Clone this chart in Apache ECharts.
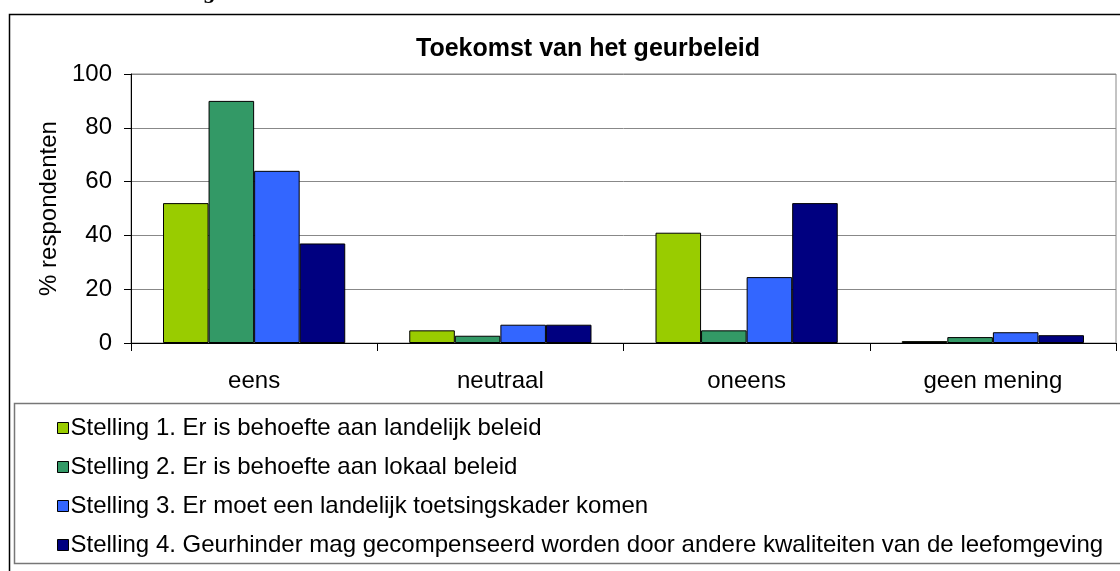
<!DOCTYPE html>
<html>
<head>
<meta charset="UTF-8"/>
<title>Toekomst van het geurbeleid</title>
<script src="https://cdn.jsdelivr.net/npm/echarts@6/dist/echarts.min.js"></script>
<style>
html, body { margin:0; padding:0; background:#fff; }
#chart { width:1120px; height:571px; }
</style>
</head>
<body>
<div id="chart"></div>
<script>
var categories = ['eens', 'neutraal', 'oneens', 'geen mening'];
var seriesNames = [
  'Stelling 1. Er is behoefte aan landelijk beleid',
  'Stelling 2. Er is behoefte aan lokaal beleid',
  'Stelling 3. Er moet een landelijk toetsingskader komen',
  'Stelling 4. Geurhinder mag gecompenseerd worden door andere kwaliteiten van de leefomgeving'
];
var stelling1 = [52, 4.7, 41, 0.7];
var stelling2 = [90, 2.7, 4.7, 2.2];
var stelling3 = [64, 6.8, 24.5, 4];
var stelling4 = [37, 6.8, 52, 2.9];
var colors = ['#99CC00', '#339966', '#3366FF', '#000080'];

var font = 'Liberation Sans, Arial, sans-serif';
var chart = echarts.init(document.getElementById('chart'));

var seriesData = [stelling1, stelling2, stelling3, stelling4];
var series = seriesData.map(function (d, i) {
  return {
    name: seriesNames[i],
    type: 'bar',
    data: d,
    barGap: '0%',
    barCategoryGap: '26%',
    itemStyle: { color: colors[i], borderColor: '#000', borderWidth: 1 },
    emphasis: { disabled: true }
  };
});

var option = {
  animation: false,
  title: {
    text: 'Toekomst van het geurbeleid',
    left: 583, top: 32, textAlign: 'center',
    textStyle: { fontFamily: font, fontSize: 25, fontWeight: 'bold', color: '#000' }
  },
  grid: {
    left: 131, right: 4, top: 74, bottom: 228,
    show: true, borderColor: '#888', borderWidth: 1
  },
  legend: {
    orient: 'vertical',
    left: 52, top: 411,
    itemWidth: 11, itemHeight: 11,
    itemGap: 15,
    icon: 'rect',
    textStyle: { fontFamily: font, fontSize: 24, color: '#000', padding: [0, 0, 0, -3] },
    data: seriesNames.map(function (n, i) {
      return { name: n, itemStyle: { color: colors[i], borderColor: '#000', borderWidth: 1 } };
    })
  },
  xAxis: {
    type: 'category',
    data: categories,
    axisLine: { lineStyle: { color: '#000', width: 1 } },
    axisTick: { show: true, length: 8, lineStyle: { color: '#000' } },
    axisLabel: { margin: 26, fontFamily: font, fontSize: 24, color: '#000' },
    splitLine: { show: false }
  },
  yAxis: {
    type: 'value',
    min: 0, max: 100, interval: 20,
    name: '% respondenten',
    nameLocation: 'middle',
    nameGap: 58,
    nameTextStyle: { fontFamily: font, fontSize: 24, color: '#000' },
    axisLine: { show: true, lineStyle: { color: '#000', width: 1 } },
    axisTick: { show: true, length: 7, lineStyle: { color: '#000' } },
    axisLabel: { margin: 19, fontFamily: font, fontSize: 24, color: '#000' },
    splitLine: { show: true, lineStyle: { color: '#888', width: 1 } }
  },
  graphic: [
    {
      type: 'rect', silent: true,
      shape: { x: 9.5, y: 14.5, width: 1200, height: 600 },
      style: { fill: 'none', stroke: '#000', lineWidth: 1.5 }
    },
    {
      type: 'rect', silent: true,
      shape: { x: 14.5, y: 403.5, width: 1200, height: 160 },
      style: { fill: 'none', stroke: '#777', lineWidth: 1.5 }
    },
    {
      type: 'text', silent: true,
      left: 203, top: -15,
      style: { text: 'g', font: 'bold 18px DejaVu Serif', fill: '#000' }
    }
  ],
  series: series
};
chart.setOption(option);
</script>
</body>
</html>
